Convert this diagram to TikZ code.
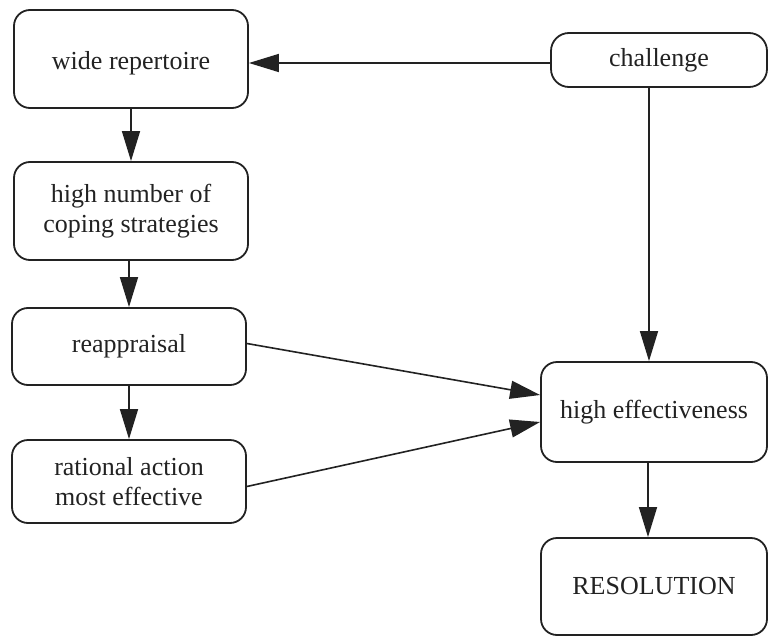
\documentclass[tikz,border=0pt]{standalone}
\usepackage{fontspec}
\setmainfont{Liberation Serif}
\usetikzlibrary{arrows.meta}
\definecolor{ink}{HTML}{222222}
\begin{document}
\begin{tikzpicture}[x=1pt,y=-1pt,
  box/.style={draw=ink, line width=1.8pt, rounded corners=16pt, align=center,
    inner sep=0pt, font=\fontsize{26}{30}\selectfont, text=ink},
  arr/.style={draw=ink, line width=1.6pt, -{Triangle[length=30pt,width=18pt]}}]
\useasboundingbox (0,0) rectangle (769,637);
% left column
\node[box, minimum width=234pt, minimum height=98pt, text height=26pt] (wr) at (131,59) {wide repertoire};
\node[box, minimum width=234pt, minimum height=98pt] (hn) at (131,211) {high number of\\coping strategies};
\node[box, minimum width=234pt, minimum height=77pt] (ra) at (129,346.5) {reappraisal};
\node[box, minimum width=234pt, minimum height=83pt] (rat) at (129,481.5) {rational action\\most effective};
% right column
\node[box, rounded corners=18pt, minimum width=216pt, minimum height=54pt] (ch) at (659,60) {challenge};
\node[box, minimum width=226pt, minimum height=100pt] (he) at (654,412) {high effectiveness};
\node[box, minimum width=226pt, minimum height=97pt] (res) at (654,586.5) {RESOLUTION};
% connectors
\draw[arr] ([yshift=-3pt]ch.west) -- ([yshift=-3pt]ch.west -| wr.east);
\draw[arr] (wr.south) -- (hn.north);
\draw[arr] (hn.south -| ra.north) -- (ra.north);
\draw[arr] (ra.south) -- (rat.north);
\draw[arr] ([xshift=-5pt]he.north |- ch.south) -- ([xshift=-5pt]he.north);
\draw[arr] ([yshift=3pt]ra.east) -- ([yshift=17pt]he.west);
\draw[arr] ([yshift=-5pt]rat.east) -- ([yshift=-10pt]he.west);
\draw[arr] ([xshift=-6pt]he.south) -- ([xshift=-6pt]res.north);
\end{tikzpicture}
\end{document}
